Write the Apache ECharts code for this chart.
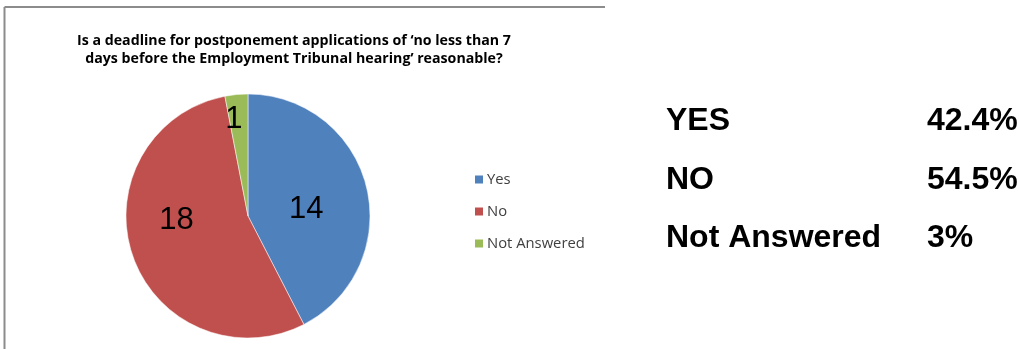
<!DOCTYPE html>
<html>
<head>
<meta charset="utf-8">
<script src="https://cdn.jsdelivr.net/npm/echarts@6/dist/echarts.min.js"></script>
<style>
html,body{margin:0;padding:0;background:#fff;}
#c{width:1019px;height:349px;}
</style>
</head>
<body>
<div id="c"></div>
<script>
const categories = ['Yes', 'No', 'Not Answered'];
const counts = [14, 18, 1];
const tableLabels = ['YES', 'NO', 'Not Answered'];
const tablePercents = ['42.4%', '54.5%', '3%'];
const titleText = 'Is a deadline for postponement applications of \u2018no less than 7\ndays before the Employment Tribunal hearing\u2019 reasonable?';

const colors = ['#4F81BD', '#C0504D', '#9BBB59'];
const labelOffsets = [[-4, 9], [-11, -16], [-8, -33]];

const chart = echarts.init(document.getElementById('c'), null, {renderer: 'canvas'});

const graphics = [
  {type: 'line', shape: {x1: 4.5, y1: 7, x2: 605, y2: 7}, style: {stroke: '#8c8c8c', lineWidth: 2}},
  {type: 'line', shape: {x1: 4.5, y1: 7, x2: 4.5, y2: 349}, style: {stroke: '#8c8c8c', lineWidth: 2}}
];
const rowY = [123, 182, 240];
tableLabels.forEach((t, i) => {
  graphics.push({type: 'text', left: 666, top: rowY[i] - 18, style: {text: t, font: 'bold 32px "Liberation Sans", Arial, sans-serif', fill: '#000'}});
  graphics.push({type: 'text', left: 927, top: rowY[i] - 18, style: {text: tablePercents[i], font: 'bold 32px "Liberation Sans", Arial, sans-serif', fill: '#000'}});
});

chart.setOption({
  animation: false,
  color: colors,
  title: {
    text: titleText,
    left: 289,
    textAlign: 'center',
    top: 27,
    textStyle: {fontFamily: '"Open Sans", "Noto Sans", sans-serif', fontWeight: 'bold', fontSize: 14.2, color: '#000', lineHeight: 18}
  },
  legend: {
    orient: 'vertical',
    left: 468,
    top: 167,
    itemWidth: 10,
    itemHeight: 10,
    itemGap: 17,
    icon: 'rect',
    textStyle: {fontFamily: '"Open Sans", "Noto Sans", sans-serif', fontSize: 14.8, lineHeight: 14, color: '#404040', padding: [0, 0, 0, -2]},
    data: categories
  },
  graphic: graphics,
  series: [{
    type: 'pie',
    center: [248, 216],
    radius: 122,
    startAngle: 90,
    clockwise: true,
    silent: true,
    itemStyle: {borderColor: '#fff', borderWidth: 0.5},
    label: {
      show: true,
      position: 'inside',
      formatter: '{c}',
      fontFamily: '"Liberation Sans", Arial, sans-serif',
      fontSize: 31,
      color: '#000'
    },
    labelLine: {show: false},
    data: categories.map((n, i) => ({name: n, value: counts[i], label: {offset: labelOffsets[i]}}))
  }]
});
</script>
</body>
</html>
